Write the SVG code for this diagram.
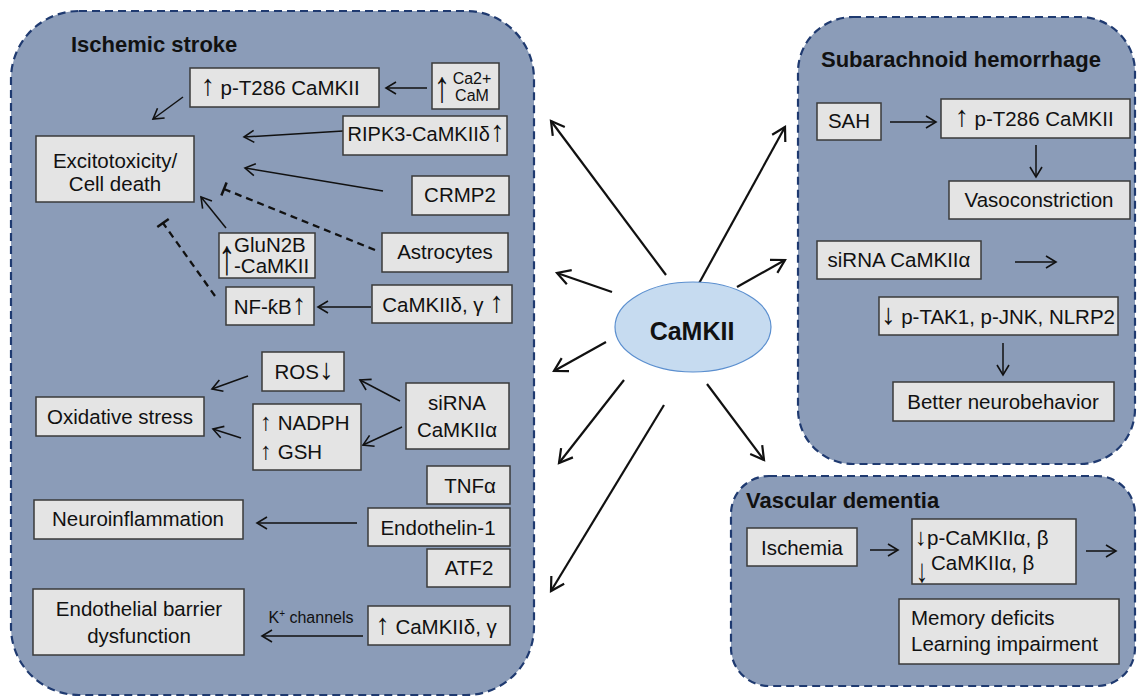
<svg xmlns="http://www.w3.org/2000/svg" width="1137" height="697" viewBox="0 0 1137 697">
<defs>
<style>
.panel{fill:#8b9cb8;stroke:#1f3a70;stroke-width:2.2;stroke-dasharray:8 5}
.box{fill:#e4e4e4;stroke:#3a3a3a;stroke-width:1.5}
text{font-family:"Liberation Sans",Arial,sans-serif;font-size:20.5px;fill:#111}
.title{font-weight:bold;font-size:22px}
.c{text-anchor:middle}
.ar{font-size:29px}
.ar2{font-size:24px}
.ln{stroke:#111;stroke-width:1.5;fill:none;marker-end:url(#ah)}
.big{stroke:#111;stroke-width:2.2;fill:none;marker-end:url(#ahb)}
.dash{stroke:#111;stroke-width:2.3;fill:none;stroke-dasharray:7 5;marker-end:url(#tb)}
</style>
<marker id="ah" markerUnits="userSpaceOnUse" markerWidth="16" markerHeight="16" viewBox="-13 -8 16 16" refX="0" refY="0" orient="auto"><path d="M-10,-6 L0,0 L-10,6" fill="none" stroke="#111" stroke-width="1.6"/></marker>
<marker id="ahb" markerUnits="userSpaceOnUse" markerWidth="20" markerHeight="20" viewBox="-16 -10 20 20" refX="0" refY="0" orient="auto"><path d="M-13,-7.5 L0,0 L-13,7.5" fill="none" stroke="#111" stroke-width="2.2"/></marker>
<marker id="tb" markerUnits="userSpaceOnUse" markerWidth="6" markerHeight="18" viewBox="-3 -9 6 18" refX="0" refY="0" orient="auto"><path d="M0,-7 L0,7" fill="none" stroke="#111" stroke-width="2.5"/></marker>
</defs>

<g id="panels">
<rect class="panel" x="11" y="11" width="523" height="684" rx="68"/>
<rect class="panel" x="798" y="17" width="337" height="447" rx="55"/>
<rect class="panel" x="731" y="476" width="404" height="210" rx="38"/>
<text class="title" x="71" y="52">Ischemic stroke</text>
<text class="title" x="821" y="67">Subarachnoid hemorrhage</text>
<text class="title" x="746" y="508">Vascular dementia</text>
</g>

<g id="connectors">
<line class="ln" x1="427" y1="88" x2="386" y2="88"/>
<line class="ln" x1="183" y1="97" x2="153" y2="119"/>
<line class="ln" x1="343" y1="131" x2="244" y2="137"/>
<line class="ln" x1="383" y1="191" x2="245" y2="168"/>
<line class="dash" x1="375" y1="250" x2="224" y2="189"/>
<line class="ln" x1="226" y1="228" x2="201" y2="197"/>
<line class="dash" x1="215" y1="296" x2="163" y2="223"/>
<line class="ln" x1="371" y1="307" x2="318" y2="307"/>
<line class="ln" x1="248" y1="376" x2="212" y2="389"/>
<line class="ln" x1="400" y1="401" x2="360" y2="380"/>
<line class="ln" x1="241" y1="438" x2="213" y2="429"/>
<line class="ln" x1="402" y1="427" x2="363" y2="445"/>
<line class="ln" x1="357" y1="523" x2="257" y2="523"/>
<line class="ln" x1="363" y1="636" x2="262" y2="636"/>
<line class="big" x1="666" y1="275" x2="551" y2="121"/>
<line class="big" x1="612" y1="292" x2="557" y2="273"/>
<line class="big" x1="697" y1="287" x2="785" y2="127"/>
<line class="big" x1="737" y1="287" x2="785" y2="260"/>
<line class="big" x1="606" y1="342" x2="554" y2="371"/>
<line class="big" x1="624" y1="380" x2="559" y2="463"/>
<line class="big" x1="664" y1="405" x2="551" y2="591"/>
<line class="big" x1="707" y1="384" x2="764" y2="460"/>
<line class="ln" x1="890" y1="122" x2="936" y2="122"/>
<line class="ln" x1="1036" y1="145" x2="1036" y2="177"/>
<line class="ln" x1="1015" y1="262" x2="1056" y2="262"/>
<line class="ln" x1="1003" y1="343" x2="1003" y2="375"/>
<line class="ln" x1="870" y1="550" x2="898" y2="550"/>
<line class="ln" x1="1086" y1="551" x2="1116" y2="551"/>
</g>

<g id="camkii">
<ellipse cx="693" cy="327" rx="78" ry="45" fill="#c6dbf0" stroke="#5b8fcf" stroke-width="1.2"/>
<text class="c" x="692" y="340" style="font-weight:bold;font-size:25px">CaMKII</text>
</g>

<g id="is-pt286"><rect class="box" x="190" y="68" width="189" height="39"/><text class="c" x="280" y="95"><tspan class="ar">↑</tspan> p-T286 CaMKII</text></g>
<g id="is-ca"><rect class="box" x="432" y="63" width="67" height="46"/><text transform="translate(442,102) scale(0.75,1)" class="c" style="font-size:44px">↑</text><text class="c" x="472" y="84" style="font-size:16px">Ca2+</text><text class="c" x="472" y="101" style="font-size:16px">CaM</text></g>
<g id="is-ripk3"><rect class="box" x="343" y="116" width="164" height="39"/><text class="c" x="426" y="141" style="font-size:20px">RIPK3-CaMKIIδ<tspan class="ar">↑</tspan></text></g>
<g id="is-excito"><rect class="box" x="36" y="136" width="158" height="66"/><text class="c" x="115" y="168">Excitotoxicity/</text><text class="c" x="115" y="191">Cell death</text></g>
<g id="is-crmp2"><rect class="box" x="412" y="176" width="97" height="39"/><text class="c" x="460" y="202">CRMP2</text></g>
<g id="is-astro"><rect class="box" x="382" y="233" width="126" height="39"/><text class="c" x="445" y="259">Astrocytes</text></g>
<g id="is-glun2b"><rect class="box" x="219" y="233" width="96" height="45"/><text transform="translate(227,274) scale(0.7,1)" class="c" style="font-size:50px">↑</text><text x="234" y="252">GluN2B</text><text x="234" y="273">-CaMKII</text></g>
<g id="is-camkiidg"><rect class="box" x="372" y="285" width="140" height="38"/><text class="c" x="443" y="312">CaMKIIδ, γ <tspan class="ar">↑</tspan></text></g>
<g id="is-nfkb"><rect class="box" x="226" y="287" width="88" height="38"/><text class="c" x="270" y="314">NF-ƙB<tspan class="ar">↑</tspan></text></g>
<g id="is-ros"><rect class="box" x="262" y="352" width="82" height="39"/><text class="c" x="304" y="379">ROS<tspan class="ar">↓</tspan></text></g>
<g id="is-ox"><rect class="box" x="36" y="397" width="168" height="39"/><text class="c" x="120" y="424">Oxidative stress</text></g>
<g id="is-nadph"><rect class="box" x="253" y="404" width="108" height="66"/><text x="260" y="430"><tspan class="ar2">↑</tspan> NADPH</text><text x="260" y="459"><tspan class="ar2">↑</tspan> GSH</text></g>
<g id="is-sirna"><rect class="box" x="406" y="383" width="103" height="66"/><text class="c" x="457" y="410">siRNA</text><text class="c" x="457" y="437">CaMKIIα</text></g>
<g id="is-tnfa"><rect class="box" x="427" y="466" width="83" height="38"/><text class="c" x="470" y="493">TNFα</text></g>
<g id="is-et1"><rect class="box" x="368" y="508" width="142" height="38"/><text class="c" x="438" y="535">Endothelin-1</text></g>
<g id="is-atf2"><rect class="box" x="427" y="549" width="83" height="38"/><text class="c" x="469" y="575">ATF2</text></g>
<g id="is-neuro"><rect class="box" x="34" y="500" width="209" height="39"/><text class="c" x="138" y="526">Neuroinflammation</text></g>
<g id="is-endo"><rect class="box" x="33" y="589" width="211" height="66"/><text class="c" x="139" y="616">Endothelial barrier</text><text class="c" x="139" y="643">dysfunction</text></g>
<g id="is-camkiidg2"><rect class="box" x="368" y="606" width="142" height="39"/><text class="c" x="436" y="634"><tspan class="ar">↑</tspan> CaMKIIδ, γ</text></g>
<g id="is-klabel"><text class="c" x="311" y="623" style="font-size:16px">K<tspan font-size="10" dy="-6">+</tspan><tspan dy="6"> channels</tspan></text></g>

<g id="sah-sah"><rect class="box" x="817" y="103" width="64" height="37"/><text class="c" x="849" y="128">SAH</text></g>
<g id="sah-pt286"><rect class="box" x="941" y="99" width="189" height="39"/><text class="c" x="1034" y="126"><tspan class="ar">↑</tspan> p-T286 CaMKII</text></g>
<g id="sah-vaso"><rect class="box" x="949" y="181" width="181" height="38"/><text class="c" x="1039" y="207">Vasoconstriction</text></g>
<g id="sah-sirna"><rect class="box" x="817" y="241" width="164" height="38"/><text class="c" x="899" y="267">siRNA CaMKIIα</text></g>
<g id="sah-ptak"><rect class="box" x="879" y="297" width="239" height="38"/><text class="c" x="998" y="324"><tspan class="ar">↓</tspan> p-TAK1, p-JNK, NLRP2</text></g>
<g id="sah-better"><rect class="box" x="893" y="382" width="221" height="39"/><text class="c" x="1003" y="409">Better neurobehavior</text></g>

<g id="vd-isch"><rect class="box" x="747" y="528" width="110" height="38"/><text class="c" x="802" y="555">Ischemia</text></g>
<g id="vd-down"><rect class="box" x="912" y="519" width="164" height="65"/><text x="915" y="545"><tspan class="ar2">↓</tspan>p-CaMKIIα, β</text><text transform="translate(922,582) scale(0.75,1)" class="c" style="font-size:33px">↓</text><text x="931" y="570">CaMKIIα, β</text></g>
<g id="vd-mem"><rect class="box" x="899" y="599" width="220" height="65"/><text x="911" y="625">Memory deficits</text><text x="911" y="651">Learning impairment</text></g>
</svg>
